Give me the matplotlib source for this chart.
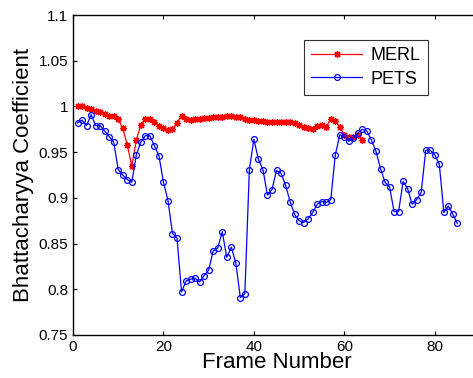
import numpy as np
import matplotlib
matplotlib.use('Agg')
import matplotlib.pyplot as plt

plt.rcParams['font.family'] = ['Liberation Sans', 'DejaVu Sans']

# MERL curve, frames 1..64
merl_frames = list(range(1, 65))
merl_bc = [1.000, 1.000, 0.998, 0.997, 0.995, 0.994, 0.992, 0.990, 0.989, 0.986,
           0.976, 0.958, 0.935, 0.963, 0.980, 0.986, 0.986, 0.983, 0.979, 0.976,
           0.974, 0.975, 0.982, 0.990, 0.986, 0.985, 0.986, 0.986, 0.987, 0.987,
           0.988, 0.988, 0.988, 0.989, 0.989, 0.988, 0.988, 0.986, 0.985, 0.985,
           0.984, 0.984, 0.983, 0.983, 0.983, 0.983, 0.983, 0.983, 0.982, 0.980,
           0.978, 0.976, 0.975, 0.979, 0.980, 0.978, 0.986, 0.984, 0.977, 0.969,
           0.967, 0.967, 0.969, 0.963]

# PETS curve, frames 1..85
pets_frames = list(range(1, 86))
pets_bc = [0.982, 0.985, 0.979, 0.991, 0.979, 0.979, 0.973, 0.967, 0.961, 0.931,
           0.925, 0.920, 0.917, 0.947, 0.961, 0.968, 0.968, 0.957, 0.946, 0.917,
           0.897, 0.861, 0.856, 0.797, 0.809, 0.811, 0.812, 0.808, 0.815, 0.821,
           0.842, 0.845, 0.863, 0.835, 0.846, 0.829, 0.791, 0.795, 0.931, 0.964,
           0.942, 0.931, 0.903, 0.909, 0.930, 0.927, 0.914, 0.896, 0.882, 0.875,
           0.873, 0.877, 0.884, 0.893, 0.896, 0.895, 0.898, 0.947, 0.969, 0.967,
           0.962, 0.965, 0.971, 0.975, 0.973, 0.963, 0.951, 0.932, 0.917, 0.912,
           0.885, 0.885, 0.918, 0.910, 0.893, 0.898, 0.906, 0.952, 0.952, 0.947,
           0.937, 0.884, 0.891, 0.882, 0.872]

yticks = [0.75, 0.8, 0.85, 0.9, 0.95, 1.0, 1.05, 1.1]
ytick_labels = ['0.75', '0.8', '0.85', '0.9', '0.95', '1', '1.05', '1.1']
xticks = [0, 20, 40, 60, 80]

W, H = 473, 378
fig = plt.figure(figsize=(W / 100, H / 100), dpi=100)
# axes runs past the right edge of the figure (cropped like the original)
ax = fig.add_axes([73 / W, (H - 335) / H, 407 / W, 320 / H])

# matlab-style asterisk marker
ax.plot(merl_frames, merl_bc, '-', marker=(8, 2, 0), color='red', lw=0.9,
        ms=5, mew=0.9, label='MERL')
ax.plot(pets_frames, pets_bc, '-o', color='blue', lw=0.9, ms=4.2,
        mfc='none', mew=0.9, label='PETS')

ax.set_xlim(0, 90)
ax.set_ylim(0.75, 1.1)
ax.set_xticks(xticks)
ax.set_yticks(yticks)
ax.set_yticklabels(ytick_labels)
ax.tick_params(direction='in', top=True, right=True, labelsize=11,
               length=3, width=0.8)
for s in ax.spines.values():
    s.set_linewidth(1.0)

ax.set_xlabel('Frame Number', fontsize=16, labelpad=-1)
ax.set_ylabel('Bhattacharyya Coefficient', fontsize=16, labelpad=3)

leg = ax.legend(loc='upper left', bbox_to_anchor=(304 / W, 1 - 40 / H),
                bbox_transform=fig.transFigure, borderaxespad=0,
                fancybox=False, edgecolor='black', fontsize=13,
                handlelength=2.8, handletextpad=0.5, borderpad=0.4,
                labelspacing=0.35)
leg.get_frame().set_linewidth(0.8)

fig.savefig('out.png', dpi=100)
